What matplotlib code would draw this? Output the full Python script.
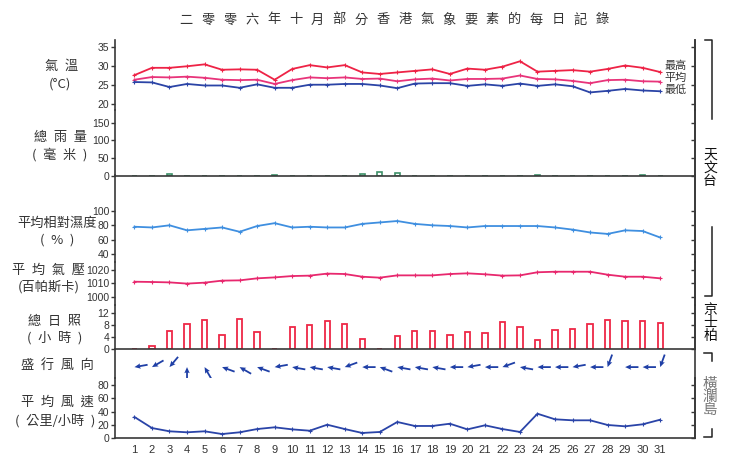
import numpy as np
import matplotlib
matplotlib.use("Agg")
import matplotlib.pyplot as plt
from matplotlib.lines import Line2D

plt.rcParams["font.family"] = ["Liberation Sans", "Noto Sans CJK TC", "DejaVu Sans"]
CJK = ["Noto Sans CJK TC", "DejaVu Sans"]

# ---- daily data, October 2006 ----
days = np.arange(1, 32)
day_labels = [str(d) for d in days]

temp_max = [27.6, 29.5, 29.5, 29.9, 30.4, 29.0, 29.1, 29.0, 26.4, 29.2, 30.2, 29.6, 30.2, 28.3, 27.9, 28.3,
            28.7, 29.1, 27.9, 29.3, 29.0, 29.8, 31.2, 28.5, 28.7, 28.9, 28.5, 29.2, 30.1, 29.5, 28.4]
temp_mean = [26.4, 27.1, 27.0, 27.2, 26.9, 26.4, 26.3, 26.4, 25.3, 26.3, 27.0, 26.8, 27.0, 26.6, 26.7, 26.0,
             26.5, 26.7, 26.2, 26.6, 26.6, 26.7, 27.5, 26.6, 26.5, 26.1, 25.5, 26.3, 26.4, 26.0, 25.9]
temp_min = [25.8, 25.7, 24.5, 25.3, 24.9, 24.9, 24.3, 25.2, 24.3, 24.3, 25.1, 25.1, 25.3, 25.3, 24.9, 24.2,
            25.4, 25.5, 25.5, 24.8, 25.2, 24.8, 25.4, 24.8, 25.2, 24.7, 23.1, 23.5, 24.0, 23.6, 23.4]
rainfall = [0, 0, 3.5, 0, 0, 0, 0, 0, 0.8, 0, 0, 0, 0, 3.0, 9.5, 6.5,
            0, 0, 0, 0, 0, 0, 0, 1.0, 0, 0, 0, 0, 0, 0.5, 0]
humidity = [78, 77, 80, 73, 75, 77, 71, 79, 83, 77, 78, 77, 77, 82, 84, 86,
            82, 80, 79, 77, 79, 79, 79, 79, 77, 74, 70, 68, 73, 72, 63]
pressure = [1011.1, 1010.9, 1010.6, 1009.7, 1010.4, 1011.9, 1012.1, 1013.6, 1014.3, 1015.3, 1015.6,
            1017.1, 1016.8, 1014.8, 1014.1, 1015.8, 1015.8, 1015.8, 1016.8, 1017.3, 1016.6, 1015.6,
            1015.8, 1018.1, 1018.5, 1018.5, 1018.5, 1016.3, 1014.8, 1014.8, 1013.6]
sunshine = [0.2, 1.2, 6.2, 8.3, 9.7, 4.7, 10.2, 5.9, 0.0, 7.4, 8.0, 9.5, 8.3, 3.3, 0.2, 4.3,
            6.1, 6.2, 4.8, 5.9, 5.4, 9.0, 7.3, 3.0, 6.3, 6.8, 8.4, 9.7, 9.3, 9.5, 8.7]
wind_dir = [80, 60, 40, 180, 150, 110, 120, 110, 80, 100, 100, 100, 70, 90, 110, 100,
            100, 100, 90, 80, 90, 70, 100, 90, 90, 80, 90, 20, 90, 90, 20]
wind_speed = [32, 15.4, 10.5, 9, 10.5, 6.4, 9, 13.9, 16.5, 13.4, 11.4, 20.4, 13.9, 8, 9.5, 24.5,
              18.5, 18.5, 21.9, 13.4, 19.5, 13.9, 9.5, 36.9, 28.5, 27, 27, 20, 18, 21, 27.9]

title = "二零零六年十月部分香港氣象要素的每日記錄"

# ---- layout (pixels) ----
W, H = 733, 469
LEFT, RIGHT = 115, 694.5
XLIM = (-0.11, 32.96)
SPINE = "#383838"
TXT = "#333333"

fig = plt.figure(figsize=(W / 100, H / 100), dpi=100)
fig.patch.set_facecolor("white")


def fig_text(x, y, s, **kw):
    kw.setdefault("family", CJK)
    kw.setdefault("color", TXT)
    fig.text(x / W, 1 - y / H, s, ha="center", va="center", **kw)


def fig_line(xs, ys, **kw):
    fig.add_artist(Line2D([x / W for x in xs], [1 - y / H for y in ys],
                          transform=fig.transFigure, color="#222222", lw=1.1, **kw))


def add_panel(top, bottom, ylim, yticks=None, bottom_spine=False):
    ax = fig.add_axes([LEFT / W, 1 - bottom / H, (RIGHT - LEFT) / W, (bottom - top) / H])
    ax.set_xlim(*XLIM)
    ax.set_ylim(*ylim)
    ax.patch.set_visible(False)
    ax.spines["top"].set_visible(False)
    ax.spines["bottom"].set_visible(bottom_spine)
    for side in ("left", "right", "bottom"):
        ax.spines[side].set_color(SPINE)
        ax.spines[side].set_linewidth(1.2)
    ax.set_xticks([])
    if yticks is None:
        ax.set_yticks([])
    else:
        ax.set_yticks(yticks)
        ax.tick_params(axis="y", direction="out", length=3, width=1, color=SPINE,
                       labelsize=7.5, labelcolor=TXT, pad=1)
        sec = ax.secondary_yaxis("right")
        sec.set_yticks(yticks)
        sec.tick_params(axis="y", direction="in", length=3, width=1, color=SPINE, labelright=False)
        sec.spines["right"].set_color(SPINE)
        sec.spines["right"].set_linewidth(1.2)
    return ax


line_kw = dict(lw=1.3, marker="+", markersize=3, mew=0.8)

# temperature
ax_t = add_panel(40, 110, (18.52, 36.74), [20, 25, 30, 35])
ax_t.plot(days, temp_max, color="#ee2346", **line_kw)
ax_t.plot(days, temp_mean, color="#e8347a", **line_kw)
ax_t.plot(days, temp_min, color="#2b44a6", **line_kw)
for vals, dy, s in ((temp_max, 4.6, "最高"), (temp_mean, 2.6, "平均"), (temp_min, 0.8, "最低")):
    ax_t.annotate(s, (days[-1], vals[-1]), xytext=(3, dy), textcoords="offset points",
                  ha="left", va="center", fontsize=8, family=CJK, color=TXT)

# rainfall
ax_r = add_panel(110, 175.5, (0, 187.1), [0, 50, 100, 150], bottom_spine=True)
ax_r.bar(days, rainfall, width=0.3, facecolor="white", edgecolor="#3d9068", lw=1.2, zorder=1)

# humidity
ax_h = add_panel(175.5, 262, (28.8, 149.5), [40, 60, 80, 100])
ax_h.plot(days, humidity, color="#3f8fe0", **line_kw)

# pressure
ax_p = add_panel(262, 305, (993.85, 1025.7), [1000, 1010, 1020])
ax_p.plot(days, pressure, color="#e8286e", **line_kw)

# sunshine
ax_s = add_panel(305, 349.3, (0, 14.77), [0, 4, 8, 12], bottom_spine=True)
ax_s.bar(days, sunshine, width=0.3, facecolor="white", edgecolor="#ee2846", lw=1.3, zorder=1)

# prevailing wind direction
ax_d = add_panel(349.3, 378, (0, 1))
rad = np.deg2rad(wind_dir)
ax_d.quiver(days, np.full(len(days), 0.38), -np.sin(rad), -np.cos(rad), pivot="tip",
            angles="uv", scale_units="inches", scale=7.5, units="inches", width=0.018,
            headwidth=3.0, headlength=3.4, headaxislength=3.0, color="#1f3fa6")

# wind speed
ax_w = add_panel(378, 438.3, (0, 90.5), [0, 20, 40, 60, 80], bottom_spine=True)
ax_w.plot(days, wind_speed, color="#2a44a8", **line_kw)
ax_w.set_xticks(days)
ax_w.set_xticklabels(day_labels)
ax_w.tick_params(axis="x", length=0, labelsize=8, labelcolor=TXT, pad=5)

# title
for i, ch in enumerate(title):
    fig_text(186 + i * (602 - 186) / (len(title) - 1), 20, ch, fontsize=9.5)

# left labels
sp = "\u2002"
fig_text(62, 66, sp.join("氣溫"), fontsize=9.5)
fig_text(60, 84, "(°C)", fontsize=9.5)
fig_text(60, 137, sp.join("總雨量"), fontsize=9.5)
fig_text(60, 155, "(" + sp + sp.join("毫米") + sp + ")", fontsize=9.5)
fig_text(57, 223, "平均相對濕度", fontsize=9.5)
fig_text(57, 240, "(" + sp + "%" + sp + ")", fontsize=9.5)
fig_text(48, 270, sp.join("平均氣壓"), fontsize=9.5)
fig_text(49, 287, "(百帕斯卡)", fontsize=9.5)
fig_text(55, 321, sp.join("總日照"), fontsize=9.5)
fig_text(55, 338, "(" + sp + sp.join("小時") + sp + ")", fontsize=9.5)
fig_text(57, 365, sp.join("盛行風向"), fontsize=9.5)
fig_text(57, 402, sp.join("平均風速"), fontsize=9.5)
fig_text(55, 421, "(" + sp + "公里/小時" + sp + ")", fontsize=9.5)

# station brackets on the right
fig_line([705, 712, 712], [40, 40, 119])
fig_text(710, 168, "天\n文\n台", fontsize=10, color="#111111", linespacing=0.95)
fig_line([712, 712, 705], [227, 296, 296])
fig_text(710, 323, "京\n士\n柏", fontsize=10, color="#111111", linespacing=0.95)
fig_line([704, 712, 712], [353, 353, 361])
fig_text(710, 397, "橫\n瀾\n島", fontsize=10.5, color="#777777", linespacing=0.95)
fig_line([704, 712, 712], [437, 437, 429])

fig.savefig("out.png", dpi=100, facecolor="white")
